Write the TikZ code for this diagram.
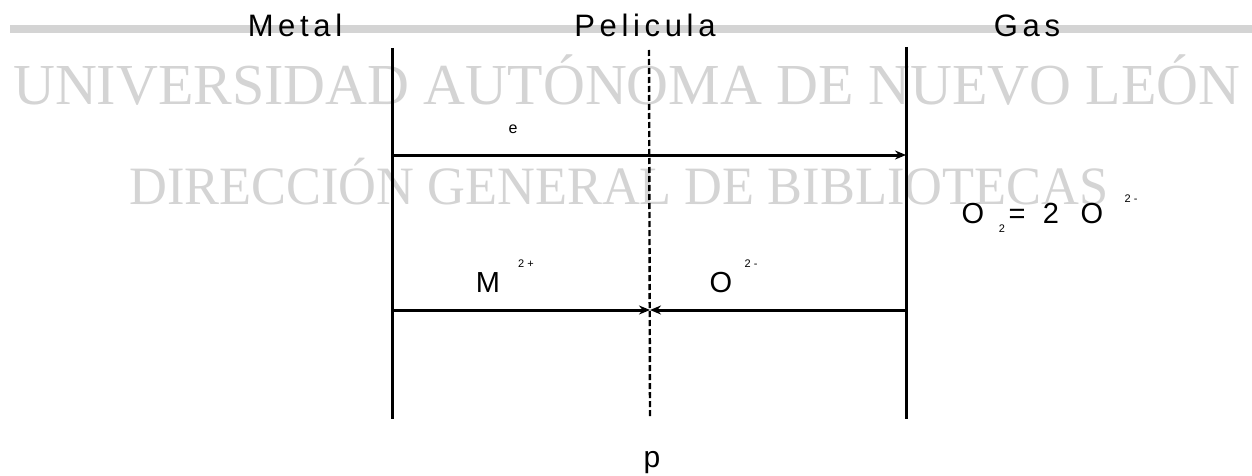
\documentclass[tikz,border=0pt]{standalone}
\usepackage{fontspec}
\setmainfont{Liberation Sans}
\newfontfamily\wmfont{Liberation Serif}
\usetikzlibrary{arrows.meta}
\definecolor{wmgray}{HTML}{D4D4D4}
\tikzset{
  wm/.style={font=\wmfont\fontsize{58}{58}\selectfont, text=wmgray, inner sep=0pt, anchor=base west},
  lbl/.style={font=\addfontfeature{LetterSpace=15}\fontsize{31}{31}\selectfont, inner sep=0pt, anchor=base},
  chem/.style={font=\fontsize{29}{29}\selectfont, inner sep=0pt, anchor=base},
  tiny/.style={font=\fontsize{11}{11}\selectfont, inner sep=0pt, anchor=base},
  wall/.style={line width=3pt},
  film/.style={line width=2.4pt, dash pattern=on 6pt off 3pt},
  flux/.style={line width=3pt, -{Stealth[length=11pt,width=9pt]}},
}
\begin{document}
\begin{tikzpicture}[x=1pt,y=-1pt]
\useasboundingbox (0,0) rectangle (1252,476);
\fill[white] (0,0) rectangle (1252,476);
% header bar
\fill[wmgray] (10,25) rectangle (1252,33);
% watermark
\node[wm] (wm1) at (13,105) {UNIVERSIDAD AUTÓNOMA DE NUEVO LEÓN};
\node[wm, font=\wmfont\fontsize{54}{54}\selectfont] (wm2) at (129,204) {\scalebox{0.97}[1]{DIRECCIÓN GENERAL DE BIBLIOTECAS}};
% titles
\node[lbl] (metal) at (295,37) {Metal};
\node[lbl] (pel) at (645,37) {Pelicula};
\node[lbl] (gas) at (1027,37) {Gas};
% walls
\coordinate (Lt) at (392,48);
\coordinate (Lb) at (392,419);
\coordinate (Rt) at (906,47);
\coordinate (Rb) at (906,419);
\coordinate (Mt) at (649,50);
\coordinate (Mb) at (650,417);
\draw[wall] (Lt) -- (Lb);
\draw[wall] (Rt) -- (Rb);
\draw[film] (Mt) -- (Mb);
% electron flux
\coordinate (eL) at (392,155);
\coordinate (eR) at (906,155);
\draw[flux] (eL) -- (eR);
\node[font=\fontsize{16}{16}\selectfont, inner sep=0pt, anchor=base] (e) at (513,133) {e};
% ion fluxes
\coordinate (iL) at (392,310);
\coordinate (iM) at (650,310);
\coordinate (iR) at (906,310);
\draw[flux] (iL) -- (iM);
\draw[flux] (iR) -- (iM);
\node[chem] (M) at (488,292) {M};
\node[tiny] (Mq) at (526,267) {2 +};
\node[chem] (O) at (721,292) {O};
\node[tiny] (Oq) at (751,267) {2 -};
% gas reaction
\node[chem] (O2) at (973,223) {O};
\node[tiny] (O2s) at (1002,232) {2};
\node[chem] (eq) at (1017,223) {=};
\node[chem] (two) at (1051,223) {2};
\node[chem] (Ox) at (1092,223) {O};
\node[tiny] (Oxq) at (1131,202) {2 -};
% bottom label
\node[font=\fontsize{30}{30}\selectfont, inner sep=0pt, anchor=base] (p) at (652,467) {p};
\end{tikzpicture}
\end{document}
